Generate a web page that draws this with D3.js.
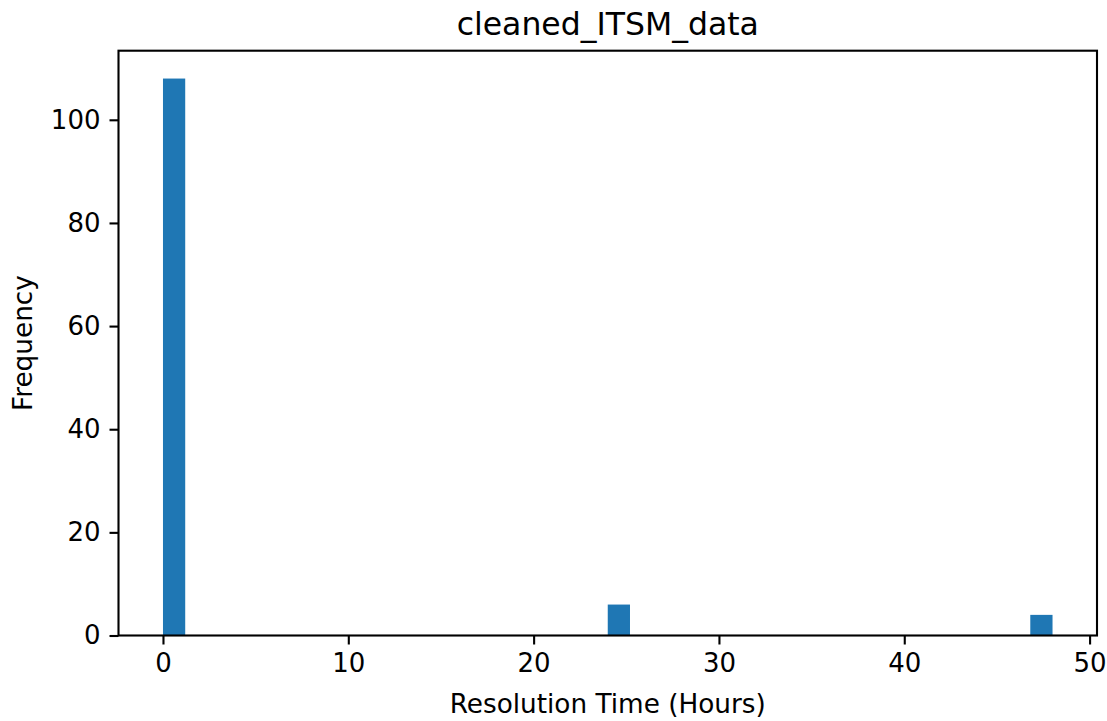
<!DOCTYPE html>
<html>
<head>
<meta charset="utf-8">
<script src="https://cdn.jsdelivr.net/npm/d3@7"></script>
<style>
  html, body { margin: 0; padding: 0; background: #fff; }
  svg { display: block; font-family: "DejaVu Sans", sans-serif; }
</style>
</head>
<body>
<svg id="chart" width="1107" height="721"></svg>
<script>
// ---- data ----
const title = "cleaned_ITSM_data";
const xLabel = "Resolution Time (Hours)";
const yLabel = "Frequency";
const binStarts = [0, 24, 46.8];
const binEnds = [1.2, 25.2, 48.0];
const counts = [108, 6, 4];
const xTicks = [0, 10, 20, 30, 40, 50];
const yTicks = [0, 20, 40, 60, 80, 100];

const svg = d3.select("#chart");
const L = 118.5, R = 1097, T = 50.7, B = 635.5;

const x = d3.scaleLinear().domain([-2.4, 50.4]).range([L, R]);
const y = d3.scaleLinear().domain([0, 113.4]).range([B, T]);

const bins = counts.map((c, i) => ({ x0: binStarts[i], x1: binEnds[i], c }));

svg.append("g").selectAll("rect").data(bins).join("rect")
  .attr("x", d => x(d.x0))
  .attr("width", d => x(d.x1) - x(d.x0))
  .attr("y", d => y(d.c))
  .attr("height", d => y(0) - y(d.c))
  .attr("fill", "#1f77b4");

const tickFont = 26;
const xAxis = svg.append("g").attr("transform", `translate(0,${B})`)
  .call(d3.axisBottom(x).tickValues(xTicks).tickFormat(d3.format("d")).tickSize(9).tickPadding(9));
const yAxis = svg.append("g").attr("transform", `translate(${L},0)`)
  .call(d3.axisLeft(y).tickValues(yTicks).tickFormat(d3.format("d")).tickSize(9).tickPadding(9));
[xAxis, yAxis].forEach(a => {
  a.select(".domain").remove();
  a.selectAll(".tick line").attr("stroke", "#000").attr("stroke-width", 2.1);
  a.selectAll(".tick text").attr("fill", "#000")
    .style("font-size", tickFont + "px").style("font-family", "DejaVu Sans");
});

// frame
svg.append("rect")
  .attr("x", L).attr("y", T).attr("width", R - L).attr("height", B - T)
  .attr("fill", "none").attr("stroke", "#000").attr("stroke-width", 2.1);

svg.append("text").attr("x", (L + R) / 2).attr("y", 35)
  .attr("text-anchor", "middle").style("font-size", "31.5px").attr("fill", "#000")
  .text(title);

svg.append("text").attr("x", (L + R) / 2).attr("y", 713)
  .attr("text-anchor", "middle").style("font-size", "26.3px").attr("fill", "#000")
  .text(xLabel);

svg.append("text")
  .attr("transform", `translate(32,${(T + B) / 2}) rotate(-90)`)
  .attr("text-anchor", "middle").style("font-size", "26.3px").attr("fill", "#000")
  .text(yLabel);
</script>
</body>
</html>
